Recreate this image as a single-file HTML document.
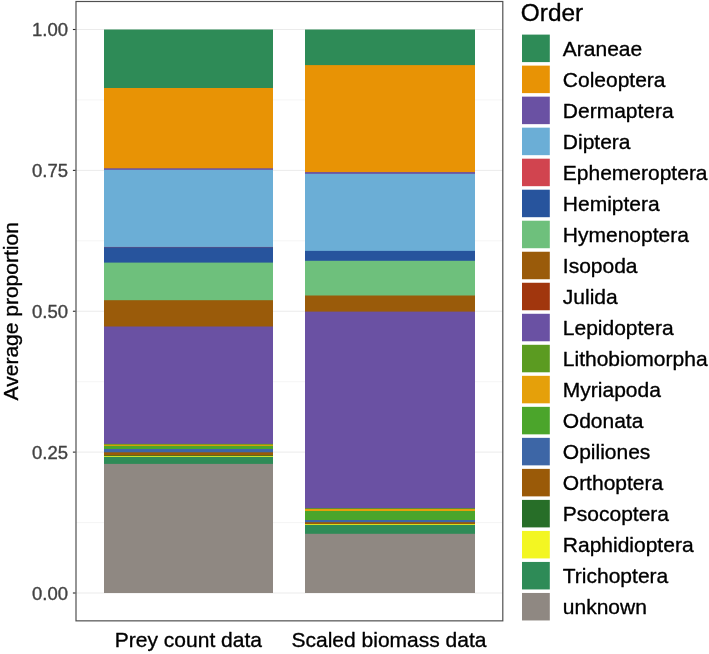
<!DOCTYPE html>
<html lang="en"><head><meta charset="utf-8"><title>Average proportion by Order</title>
<style>html,body{margin:0;padding:0;background:#fff;}svg{display:block;will-change:transform;-webkit-font-smoothing:antialiased;}text{font-family:"Liberation Sans",Arial,Helvetica,sans-serif;stroke-width:0.35px;stroke-linejoin:round;}text.k{stroke:#000;}text.g{stroke:#424242;}</style></head><body>
<svg width="709" height="654" viewBox="0 0 709 654">
<rect x="0" y="0" width="709" height="654" fill="#ffffff"/>
<line x1="76.0" x2="502.8" y1="593.00" y2="593.00" stroke="#ebebeb" stroke-width="1.0"/>
<line x1="76.0" x2="502.8" y1="522.56" y2="522.56" stroke="#f2f2f2" stroke-width="0.8"/>
<line x1="76.0" x2="502.8" y1="452.12" y2="452.12" stroke="#ebebeb" stroke-width="1.0"/>
<line x1="76.0" x2="502.8" y1="381.69" y2="381.69" stroke="#f2f2f2" stroke-width="0.8"/>
<line x1="76.0" x2="502.8" y1="311.25" y2="311.25" stroke="#ebebeb" stroke-width="1.0"/>
<line x1="76.0" x2="502.8" y1="240.81" y2="240.81" stroke="#f2f2f2" stroke-width="0.8"/>
<line x1="76.0" x2="502.8" y1="170.38" y2="170.38" stroke="#ebebeb" stroke-width="1.0"/>
<line x1="76.0" x2="502.8" y1="99.94" y2="99.94" stroke="#f2f2f2" stroke-width="0.8"/>
<line x1="76.0" x2="502.8" y1="29.50" y2="29.50" stroke="#ebebeb" stroke-width="1.0"/>
<rect x="104" y="29.50" width="169.00" height="563.50" fill="#2e8b57"/>
<rect x="104" y="88.00" width="169.00" height="505.00" fill="#e89305"/>
<rect x="104" y="168.30" width="169.00" height="424.70" fill="#6a51a3"/>
<rect x="104" y="169.80" width="169.00" height="423.20" fill="#6baed6"/>
<rect x="104" y="246.95" width="169.00" height="346.05" fill="#d1444f"/>
<rect x="104" y="247.20" width="169.00" height="345.80" fill="#27549d"/>
<rect x="104" y="262.60" width="169.00" height="330.40" fill="#6ec07c"/>
<rect x="104" y="300.20" width="169.00" height="292.80" fill="#9a5b0a"/>
<rect x="104" y="326.50" width="169.00" height="266.50" fill="#6a51a3"/>
<rect x="104" y="443.90" width="169.00" height="149.10" fill="#5b9b21"/>
<rect x="104" y="444.70" width="169.00" height="148.30" fill="#e5a00a"/>
<rect x="104" y="445.90" width="169.00" height="147.10" fill="#4ba52b"/>
<rect x="104" y="449.00" width="169.00" height="144.00" fill="#3d66a6"/>
<rect x="104" y="452.30" width="169.00" height="140.70" fill="#9a5a08"/>
<rect x="104" y="455.40" width="169.00" height="137.60" fill="#276e28"/>
<rect x="104" y="455.95" width="169.00" height="137.05" fill="#f3f622"/>
<rect x="104" y="456.80" width="169.00" height="136.20" fill="#2e8b57"/>
<rect x="104" y="463.90" width="169.00" height="129.10" fill="#8f8882"/>
<rect x="305" y="29.50" width="170.00" height="563.50" fill="#2e8b57"/>
<rect x="305" y="65.10" width="170.00" height="527.90" fill="#e89305"/>
<rect x="305" y="172.10" width="170.00" height="420.90" fill="#6a51a3"/>
<rect x="305" y="173.80" width="170.00" height="419.20" fill="#6baed6"/>
<rect x="305" y="250.90" width="170.00" height="342.10" fill="#27549d"/>
<rect x="305" y="260.80" width="170.00" height="332.20" fill="#6ec07c"/>
<rect x="305" y="295.50" width="170.00" height="297.50" fill="#9a5b0a"/>
<rect x="305" y="311.60" width="170.00" height="281.40" fill="#6a51a3"/>
<rect x="305" y="508.20" width="170.00" height="84.80" fill="#5b9b21"/>
<rect x="305" y="509.00" width="170.00" height="84.00" fill="#e5a00a"/>
<rect x="305" y="511.00" width="170.00" height="82.00" fill="#4ba52b"/>
<rect x="305" y="520.00" width="170.00" height="73.00" fill="#3d66a6"/>
<rect x="305" y="522.20" width="170.00" height="70.80" fill="#9a5a08"/>
<rect x="305" y="524.10" width="170.00" height="68.90" fill="#f3f622"/>
<rect x="305" y="524.90" width="170.00" height="68.10" fill="#2e8b57"/>
<rect x="305" y="533.80" width="170.00" height="59.20" fill="#8f8882"/>
<rect x="76.0" y="1.5" width="426.80" height="619.35" fill="none" stroke="#505050" stroke-width="1.2"/>
<line x1="72.9" x2="75.5" y1="593.00" y2="593.00" stroke="#2a2a2a" stroke-width="1.1"/>
<text x="68.0" y="599.75" font-size="18.5" fill="#424242" class="g" text-anchor="end">0.00</text>
<line x1="72.9" x2="75.5" y1="452.12" y2="452.12" stroke="#2a2a2a" stroke-width="1.1"/>
<text x="68.0" y="458.88" font-size="18.5" fill="#424242" class="g" text-anchor="end">0.25</text>
<line x1="72.9" x2="75.5" y1="311.25" y2="311.25" stroke="#2a2a2a" stroke-width="1.1"/>
<text x="68.0" y="318.00" font-size="18.5" fill="#424242" class="g" text-anchor="end">0.50</text>
<line x1="72.9" x2="75.5" y1="170.38" y2="170.38" stroke="#2a2a2a" stroke-width="1.1"/>
<text x="68.0" y="177.12" font-size="18.5" fill="#424242" class="g" text-anchor="end">0.75</text>
<line x1="72.9" x2="75.5" y1="29.50" y2="29.50" stroke="#2a2a2a" stroke-width="1.1"/>
<text x="68.0" y="36.25" font-size="18.5" fill="#424242" class="g" text-anchor="end">1.00</text>
<text x="188.4" y="646.8" font-size="21" fill="#000000" class="k" text-anchor="middle">Prey count data</text>
<text x="389.0" y="646.8" font-size="21" fill="#000000" class="k" text-anchor="middle">Scaled biomass data</text>
<text transform="translate(18.3,311.3) rotate(-90)" font-size="21" fill="#000000" class="k" text-anchor="middle">Average proportion</text>
<text x="520.8" y="21.2" font-size="24.4" fill="#000000" class="k">Order</text>
<rect x="522.0" y="34.60" width="27.8" height="27.5" fill="#2e8b57"/>
<text x="562.8" y="55.70" font-size="21" fill="#000000" class="k">Araneae</text>
<rect x="522.0" y="65.62" width="27.8" height="27.5" fill="#e89305"/>
<text x="562.8" y="86.72" font-size="21" fill="#000000" class="k">Coleoptera</text>
<rect x="522.0" y="96.64" width="27.8" height="27.5" fill="#6a51a3"/>
<text x="562.8" y="117.74" font-size="21" fill="#000000" class="k">Dermaptera</text>
<rect x="522.0" y="127.66" width="27.8" height="27.5" fill="#6baed6"/>
<text x="562.8" y="148.76" font-size="21" fill="#000000" class="k">Diptera</text>
<rect x="522.0" y="158.68" width="27.8" height="27.5" fill="#d1444f"/>
<text x="562.8" y="179.78" font-size="21" fill="#000000" class="k">Ephemeroptera</text>
<rect x="522.0" y="189.70" width="27.8" height="27.5" fill="#27549d"/>
<text x="562.8" y="210.80" font-size="21" fill="#000000" class="k">Hemiptera</text>
<rect x="522.0" y="220.72" width="27.8" height="27.5" fill="#6ec07c"/>
<text x="562.8" y="241.82" font-size="21" fill="#000000" class="k">Hymenoptera</text>
<rect x="522.0" y="251.74" width="27.8" height="27.5" fill="#9a5b0a"/>
<text x="562.8" y="272.84" font-size="21" fill="#000000" class="k">Isopoda</text>
<rect x="522.0" y="282.76" width="27.8" height="27.5" fill="#a1360d"/>
<text x="562.8" y="303.86" font-size="21" fill="#000000" class="k">Julida</text>
<rect x="522.0" y="313.78" width="27.8" height="27.5" fill="#6a51a3"/>
<text x="562.8" y="334.88" font-size="21" fill="#000000" class="k">Lepidoptera</text>
<rect x="522.0" y="344.80" width="27.8" height="27.5" fill="#5b9b21"/>
<text x="562.8" y="365.90" font-size="21" fill="#000000" class="k">Lithobiomorpha</text>
<rect x="522.0" y="375.82" width="27.8" height="27.5" fill="#e5a00a"/>
<text x="562.8" y="396.92" font-size="21" fill="#000000" class="k">Myriapoda</text>
<rect x="522.0" y="406.84" width="27.8" height="27.5" fill="#4ba52b"/>
<text x="562.8" y="427.94" font-size="21" fill="#000000" class="k">Odonata</text>
<rect x="522.0" y="437.86" width="27.8" height="27.5" fill="#3d66a6"/>
<text x="562.8" y="458.96" font-size="21" fill="#000000" class="k">Opiliones</text>
<rect x="522.0" y="468.88" width="27.8" height="27.5" fill="#9a5a08"/>
<text x="562.8" y="489.98" font-size="21" fill="#000000" class="k">Orthoptera</text>
<rect x="522.0" y="499.90" width="27.8" height="27.5" fill="#276e28"/>
<text x="562.8" y="521.00" font-size="21" fill="#000000" class="k">Psocoptera</text>
<rect x="522.0" y="530.92" width="27.8" height="27.5" fill="#f3f622"/>
<text x="562.8" y="552.02" font-size="21" fill="#000000" class="k">Raphidioptera</text>
<rect x="522.0" y="561.94" width="27.8" height="27.5" fill="#2e8b57"/>
<text x="562.8" y="583.04" font-size="21" fill="#000000" class="k">Trichoptera</text>
<rect x="522.0" y="592.96" width="27.8" height="27.5" fill="#8f8882"/>
<text x="562.8" y="614.06" font-size="21" fill="#000000" class="k">unknown</text>
</svg></body></html>
